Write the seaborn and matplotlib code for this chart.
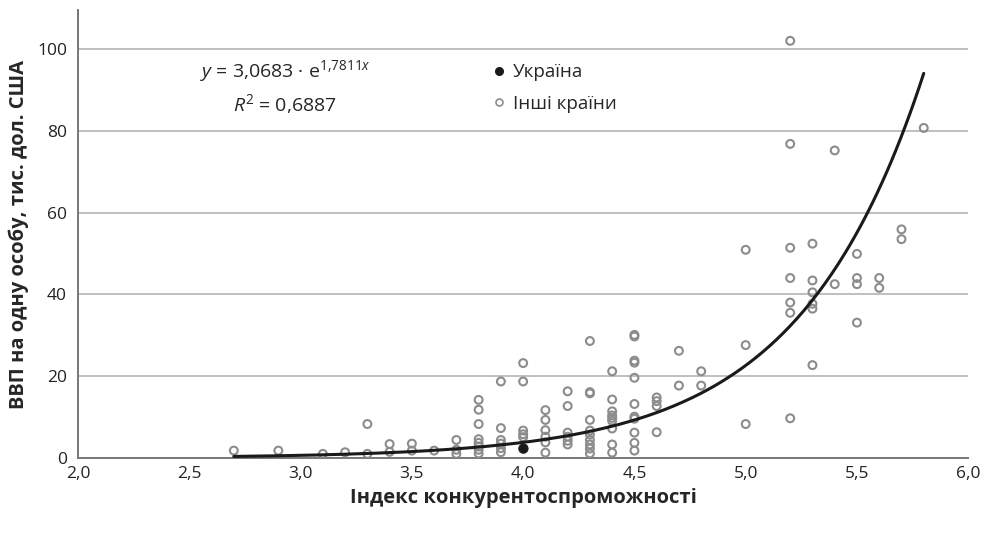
import numpy as np
import pandas as pd
import seaborn as sns
import matplotlib.pyplot as plt
from matplotlib.lines import Line2D

# Competitiveness index (x) vs GDP per capita, thousand USD (y)
x_other = [2.7, 2.9, 3.1, 3.2, 3.3, 3.3, 3.4, 3.4, 3.5, 3.5, 3.6,
           3.7, 3.7, 3.7,
           3.8, 3.8, 3.8, 3.8, 3.8, 3.8, 3.8, 3.8,
           3.9, 3.9, 3.9, 3.9, 3.9, 3.9,
           4.0, 4.0, 4.0, 4.0, 4.0, 4.0,
           4.1, 4.1, 4.1, 4.1, 4.1, 4.1,
           4.2, 4.2, 4.2, 4.2, 4.2, 4.2,
           4.3, 4.3, 4.3, 4.3, 4.3, 4.3, 4.3, 4.3, 4.3, 4.3,
           4.4, 4.4, 4.4, 4.4, 4.4, 4.4, 4.4, 4.4, 4.4,
           4.5, 4.5, 4.5, 4.5, 4.5, 4.5, 4.5, 4.5, 4.5, 4.5, 4.5,
           4.6, 4.6, 4.6, 4.6,
           4.7, 4.7, 4.8, 4.8,
           5.0, 5.0, 5.0,
           5.2, 5.2, 5.2, 5.2, 5.2, 5.2, 5.2,
           5.3, 5.3, 5.3, 5.3, 5.3, 5.3,
           5.4, 5.4,
           5.5, 5.5, 5.5, 5.5,
           5.6, 5.6, 5.7, 5.7, 5.8]
y_other = [1.8, 1.8, 1.0, 1.4, 1.0, 8.3, 1.5, 3.4, 1.8, 3.5, 1.8,
           1.0, 2.0, 4.4,
           1.1, 2.0, 2.8, 3.7, 4.6, 8.3, 11.8, 14.2,
           1.4, 2.4, 3.5, 4.4, 7.3, 18.7,
           2.2, 5.1, 5.8, 6.7, 18.7, 23.2,
           1.3, 3.8, 5.2, 6.8, 9.3, 11.7,
           3.3, 4.2, 5.2, 6.2, 12.7, 16.3,
           1.1, 2.3, 3.3, 4.4, 5.7, 6.7, 9.3, 15.8, 16.1, 28.6,
           1.3, 3.3, 7.2, 9.1, 9.8, 10.4, 11.4, 14.3, 21.2,
           1.8, 3.7, 6.2, 9.6, 10.1, 13.2, 19.6, 23.3, 23.8, 29.7, 30.1,
           6.3, 12.7, 13.9, 14.8,
           17.7, 26.2, 17.7, 21.2,
           8.3, 27.6, 50.9,
           9.7, 35.5, 38.0, 44.0, 51.4, 76.8, 102.0,
           22.7, 36.5, 37.7, 40.5, 43.4, 52.4,
           42.5, 75.2,
           33.1, 42.5, 44.0, 49.9,
           41.6, 44.0, 53.5, 55.9, 80.7]
x_ukraine = [4.0]
y_ukraine = [2.4]

# exponential trend y = a * e^(b x)
trend_a = 3.0683e-3
trend_b = 1.7811

x_ticks = [2.0, 2.5, 3.0, 3.5, 4.0, 4.5, 5.0, 5.5, 6.0]
y_ticks = [0, 20, 40, 60, 80, 100]

sns.set_style('white')
plt.rcParams['font.family'] = ['Open Sans', 'DejaVu Sans']
plt.rcParams['mathtext.fontset'] = 'custom'
plt.rcParams['mathtext.rm'] = 'Open Sans'
plt.rcParams['mathtext.it'] = 'Open Sans:italic'

fig = plt.figure(figsize=(9.88, 5.35), dpi=100)
ax = fig.add_axes([0.079, 0.144, 0.901, 0.837])

others = pd.DataFrame({'x': x_other, 'y': y_other})
ukraine = pd.DataFrame({'x': x_ukraine, 'y': y_ukraine})

# grid lines
for yv in y_ticks[1:]:
    ax.axhline(yv, color='#b4b4b4', lw=1.2, zorder=0)

sns.scatterplot(data=others, x='x', y='y', ax=ax, marker='o', s=32,
                facecolor='none', edgecolor='#8c8c8c', linewidth=1.5, zorder=3)
sns.scatterplot(data=ukraine, x='x', y='y', ax=ax, marker='o', s=45,
                color='#1a1a1a', edgecolor='#1a1a1a', zorder=4)

xs = np.linspace(min(x_other), max(x_other), 300)
sns.lineplot(x=xs, y=trend_a * np.exp(trend_b * xs), ax=ax, color='#1a1a1a',
             lw=2.2, zorder=5)

ax.set_xlim(2.0, 6.0)
ax.set_ylim(0, 109.5)
ax.set_xticks(x_ticks)
ax.set_xticklabels([f'{t:.1f}'.replace('.', ',') for t in x_ticks])
ax.set_yticks(y_ticks)
ax.tick_params(axis='both', labelsize=12.5, length=6, width=1.2,
               direction='out')
ax.tick_params(axis='x', colors='#777777', labelcolor='#222222', pad=0)
ax.tick_params(axis='y', colors='#777777', labelcolor='#222222', length=5,
               pad=3)

for side in ['top', 'right']:
    ax.spines[side].set_visible(False)
for side in ['left', 'bottom']:
    ax.spines[side].set_color('#777777')
    ax.spines[side].set_linewidth(1.4)

ax.set_xlabel('Індекс конкурентоспроможності', fontsize=14.5,
              fontweight='bold', labelpad=4)
ax.set_ylabel('ВВП на одну особу, тис. дол. США', fontsize=14.5,
              fontweight='bold', labelpad=6)

ax.text(2.93, 94.5, r'$\mathit{y}$ = 3,0683 · e$^{1{,}7811\mathit{x}}$',
        fontsize=14, ha='center', va='center')
ax.text(2.93, 86.5, r'$\mathit{R}^2$ = 0,6887', fontsize=14,
        ha='center', va='center')

handles = [
    Line2D([], [], ls='none', marker='o', ms=5.5, color='#1a1a1a'),
    Line2D([], [], ls='none', marker='o', ms=5, mfc='none', mec='#8c8c8c',
           mew=1.2),
]
ax.legend(handles, ['Україна', 'Інші країни'], loc='upper left',
          bbox_to_anchor=(0.456, 0.902), frameon=False, fontsize=13.5,
          handlelength=0.6, handletextpad=0.45, labelspacing=0.72,
          borderpad=0)

fig.savefig('out.png', dpi=100)
